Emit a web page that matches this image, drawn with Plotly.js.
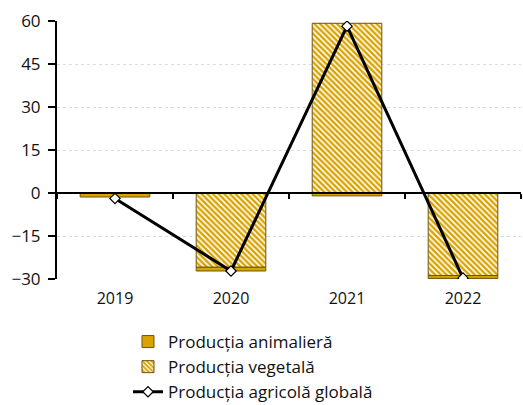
<!DOCTYPE html>
<html><head><meta charset="utf-8">
<script src="https://cdn.plot.ly/plotly-3.0.1.min.js"></script>
<style>body{margin:0;background:#fff}#c{width:523px;height:405px}</style>
</head><body><div id="c"></div>
<script>
const years = ['2019','2020','2021','2022'];
const animal = [-1.4, -1.3, -1.0, -1.0];
const vegetal = [0, -25.9, 59.2, -28.8];
const globala = [-1.9, -27.2, 58.2, -29.7];
const names = ['Producția animalieră','Producția vegetală','Producția agricolă globală'];
const gold = '#D9A300';
const edge = '#6b5410';
const font = '"Open Sans", sans-serif';

const data = [
  {type:'bar', x:years, y:vegetal, name:names[1], legendrank:2, width:0.6,
   marker:{color:'#ffffff', line:{color:edge, width:1},
     pattern:{shape:'\\', fgcolor:gold, bgcolor:'#ffffff', size:4, solidity:0.6}}},
  {type:'bar', x:years, y:animal, name:names[0], legendrank:1, width:0.6,
   marker:{color:gold, line:{color:edge, width:1}}},
  {type:'scatter', mode:'lines+markers', x:years, y:globala, name:names[2], legendrank:3,
   line:{color:'#000', width:3},
   marker:{symbol:'diamond', size:8, color:'#fff', line:{color:'#000', width:1.2}}},
  {type:'scatter', mode:'none', x:years, y:globala, xaxis:'x2', showlegend:false, hoverinfo:'skip'}
];

const layout = {
  width:523, height:405,
  margin:{l:57, r:2, t:21, b:126},
  paper_bgcolor:'#fff', plot_bgcolor:'#fff',
  barmode:'relative',
  font:{family:font, size:16, color:'#111'},
  showlegend:true,
  legend:{x:0.153, xref:'paper', y:0.2, yref:'container', xanchor:'left', yanchor:'top', orientation:'v',
          font:{family:font, size:17, color:'#111'}, tracegroupgap:0, itemwidth:30},
  xaxis:{type:'category', anchor:'free', position:0.3333, showline:true, linecolor:'#000', linewidth:2,
         ticks:'outside', tickson:'boundaries', ticklen:5, tickwidth:1.5, tickcolor:'#000',
         showticklabels:false, showgrid:false, zeroline:false},
  xaxis2:{overlaying:'x', matches:'x', type:'category', anchor:'y', side:'bottom',
          showline:false, ticks:'', showgrid:false, zeroline:false,
          tickfont:{size:16}, ticklabelstandoff:8},
  yaxis:{range:[-30,60], dtick:15, tick0:0, showline:true, linecolor:'#000', linewidth:2,
         ticks:'outside', ticklen:7, tickwidth:1.5, tickcolor:'#000',
         showgrid:true, gridcolor:'#dcdcdc', griddash:'dot', gridwidth:1,
         zeroline:false, tickfont:{size:17}, ticklabelstandoff:4}
};
Plotly.newPlot('c', data, layout, {staticPlot:true});
</script></body></html>
